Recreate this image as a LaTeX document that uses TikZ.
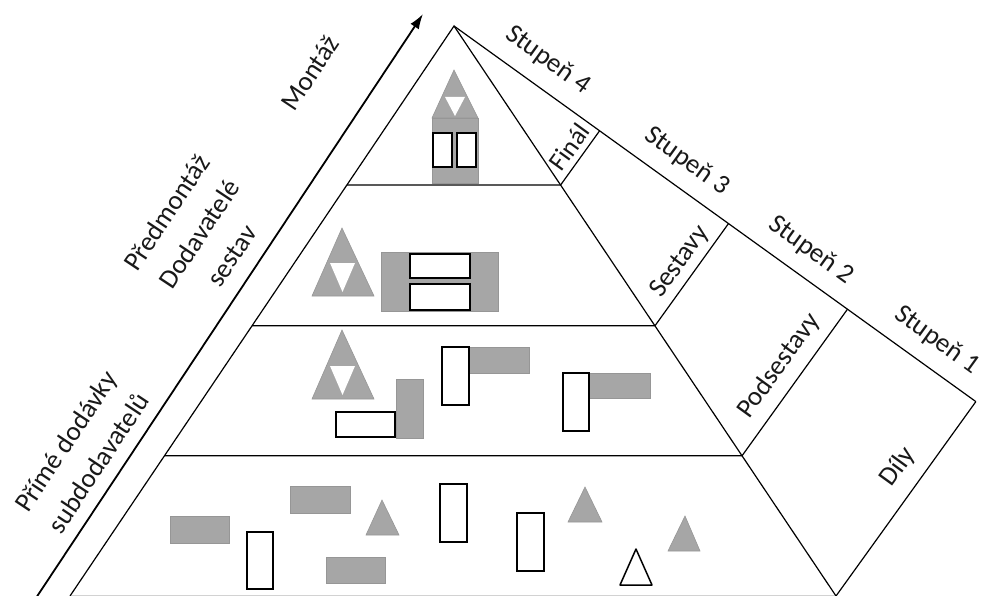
\documentclass[tikz,border=0pt]{standalone}
\usepackage{fontspec}
\setmainfont{Carlito}
\usetikzlibrary{calc,arrows.meta}
\definecolor{partgray}{RGB}{166,166,166}
\definecolor{partedge}{RGB}{150,150,150}
\begin{document}
\begin{tikzpicture}[x=1pt,y=-1pt,
  edge/.style={line width=1.2pt, black},
  part/.style={fill=partgray, draw=partedge, line width=0.6pt},
  piece/.style={fill=white, draw=black, line width=1.8pt},
  lbl/.style={font=\fontsize{27}{39}\selectfont, align=center, inner sep=0pt, text=black!90},
  smalllbl/.style={lbl, font=\fontsize{26}{30}\selectfont},
  ]
\useasboundingbox (0,0) rectangle (981,596);
\fill[white] (0,0) rectangle (981,596);

% pyramid corners
\coordinate (A) at (454,26);
\coordinate (BL) at (70,596);
\coordinate (BR) at (836,596);
\coordinate (E) at (1000,419);
% layer boundaries on both flanks
\coordinate (L1) at ($(A)!0.279!(BL)$);
\coordinate (R1) at ($(A)!0.279!(BR)$);
\coordinate (L2) at ($(A)!0.526!(BL)$);
\coordinate (R2) at ($(A)!0.526!(BR)$);
\coordinate (L3) at ($(A)!0.754!(BL)$);
\coordinate (R3) at ($(A)!0.754!(BR)$);
% feet of the stage separators on the outer line
\coordinate (F1) at ($(A)!(R1)!(E)$);
\coordinate (F2) at ($(A)!(R2)!(E)$);
\coordinate (F3) at ($(A)!(R3)!(E)$);
\coordinate (F4) at ($(A)!(BR)!(E)$);

% assembly arrow
\coordinate (ArrS) at (36,598);
\coordinate (ArrT) at (423,14);
\draw[line width=1.8pt, -{Latex[length=15pt,width=10pt]}] (ArrS) -- (ArrT);

% pyramid and stage band
\draw[gray!35, line width=1pt] ($(BL)+(0,-1)$) -- ($(BR)+(0,-1)$);
\draw[edge] (BL) -- (A) -- (BR);
\draw[edge] (A) -- (F4);
\draw[edge] (L1) -- (R1) -- (F1);
\draw[edge] (L2) -- (R2) -- (F2);
\draw[edge] (L3) -- (R3) -- (F3);
\draw[edge] (BR) -- (F4);

% level 4: final product
\draw[part] (432,118) rectangle (478,183);
\draw[part] (454,70) -- (478,118) -- (432,118) -- cycle;
\fill[white] (445,97) -- (465,97) -- (455,116) -- cycle;
\draw[piece] (433,133) rectangle (452,167);
\draw[piece] (457,133) rectangle (476,167);

% level 3: assemblies
\draw[part] (342,228) -- (374,296) -- (312,296) -- cycle;
\fill[white] (330,263) -- (355,263) -- (342.5,292) -- cycle;
\draw[part] (381,252) rectangle (498,311);
\draw[piece] (410,254) rectangle (470,278);
\draw[piece] (410,284) rectangle (470,310);

% level 2: subassemblies
\draw[part] (342,330) -- (374,399) -- (312,399) -- cycle;
\fill[white] (330,366) -- (355,366) -- (342.5,395) -- cycle;
\draw[part] (396,379) rectangle (423,438);
\draw[piece] (336,412) rectangle (395,437);
\draw[part] (469,347) rectangle (529,373);
\draw[piece] (442,347) rectangle (469,405);
\draw[part] (589,373) rectangle (650,398);
\draw[piece] (563,373) rectangle (589,431);

% level 1: parts
\draw[part] (170,516) rectangle (229,543);
\draw[piece] (247,532) rectangle (273,589);
\draw[part] (290,486) rectangle (350,513);
\draw[part] (382,500) -- (399,535) -- (366,535) -- cycle;
\draw[part] (326,557) rectangle (385,583);
\draw[piece] (440,484) rectangle (467,542);
\draw[piece] (517,513) rectangle (544,571);
\draw[part] (585,487) -- (602,522) -- (568,522) -- cycle;
\draw[fill=white, draw=black, line width=1.5pt, line join=round] (636,549) -- (652,585) -- (620,585) -- cycle;
\draw[part] (685,516) -- (700,551) -- (668,551) -- cycle;

% supply chain labels
\node[lbl, rotate=56.4] (montaz) at (310,73) {Montáž};
\node[lbl, rotate=56.4] (predmontaz) at (199,234) {Předmontáž\\Dodavatelé\\sestav};
\node[lbl, rotate=56.4] (prime) at (82,452) {Přímé dodávky\\subdodavatelů};

% stage labels
\node[lbl, rotate=-35.8] (st4) at (548,60) {Stupeň 4};
\node[lbl, rotate=-35.8] (st3) at (687,161) {Stupeň 3};
\node[lbl, rotate=-35.8] (st2) at (811,250) {Stupeň 2};
\node[lbl, rotate=-35.8] (st1) at (937,340) {Stupeň 1};

% band labels
\node[smalllbl, rotate=54] (final) at (569,147) {Finál};
\node[lbl, rotate=54] (sestavy) at (680,262) {Sestavy};
\node[lbl, rotate=54] (podsestavy) at (779,366) {Podsestavy};
\node[lbl, rotate=54] (dily) at (898,467) {Díly};
\end{tikzpicture}
\end{document}
